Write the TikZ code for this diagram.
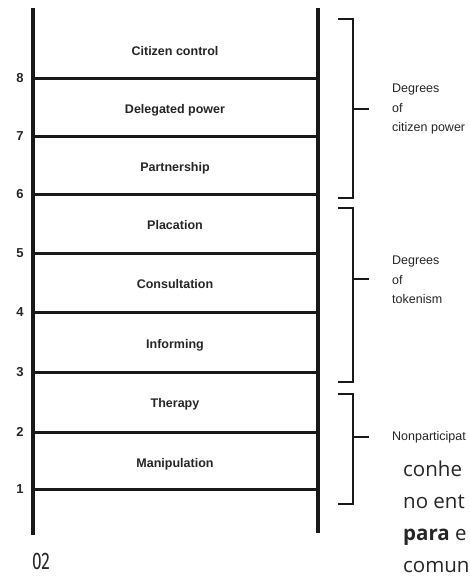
\documentclass[tikz,border=0pt]{standalone}
\usepackage{fontspec}
\newfontfamily\scanfont{Liberation Sans}
\newfontfamily\bodyfont{Open Sans}
\newfontfamily\foliofont[FakeStretch=0.72]{Fira Sans}
\usetikzlibrary{
    positioning     % For relative node placement
}

\begin{document}
\begin{tikzpicture}[
    x=1pt, y=-1pt,
    rail/.style={line width=3.4pt, black!90},
    rung/.style={line width=3pt, black!90},
    bracket/.style={line width=2.6pt, black!90},
    rung_label/.style={font=\scanfont\bfseries\fontsize{12.5}{14}\selectfont, text=black!85},
    rung_num/.style={font=\scanfont\bfseries\fontsize{13}{15}\selectfont, text=black!85},
    degree/.style={font=\scanfont\fontsize{12.5}{19.5}\selectfont, align=left, anchor=west, inner sep=0pt, text=black!85},
    body/.style={font=\bodyfont\fontsize{20.5}{32}\selectfont, anchor=base west, inner sep=0pt, text=black!85}
]
    % Page frame (clipped like the scan)
    \clip (0,0) rectangle (470,576);
    \fill[white] (0,0) rectangle (470,576);

    % Ladder rails
    \coordinate (rail_lt) at (33,8);
    \coordinate (rail_lb) at (33,535);
    \coordinate (rail_rt) at (318,8);
    \coordinate (rail_rb) at (318,533);
    \draw[rail] (rail_lt) -- (rail_lb);
    \draw[rail] (rail_rt) -- (rail_rb);

    % Rungs and their numbers
    \foreach \n/\yy in {1/489, 2/432, 3/372, 4/312, 5/253, 6/194, 7/136, 8/78} {
        \draw[rung] (33,\yy) -- (318,\yy);
        \node[rung_num] (num\n) at (20,\yy) {\n};
    }

    % Rung labels
    \node[rung_label] (citizen) at (175,51) {Citizen control};
    \node[rung_label] (delegated) at (175,110) {Delegated power};
    \node[rung_label] (partnership) at (175,168) {Partnership};
    \node[rung_label] (placation) at (175,225) {Placation};
    \node[rung_label] (consultation) at (175,284) {Consultation};
    \node[rung_label] (informing) at (175,345) {Informing};
    \node[rung_label] (therapy) at (175,404) {Therapy};
    \node[rung_label] (manipulation) at (175,464) {Manipulation};

    % Bracket 1: citizen power
    \draw[bracket] (338,19) -- (353,19) -- (353,198) -- (338,198);
    \coordinate (tick_power) at (353,109);
    \node[degree] (power) at (392,109) {Degrees\\of\\citizen power};
    \draw[bracket] (tick_power) -- ++(16,0);

    % Bracket 2: tokenism
    \draw[bracket] (338,208) -- (353,208) -- (353,382) -- (338,382);
    \coordinate (tick_token) at (353,279);
    \node[degree] (tokenism) at (392,280) {Degrees\\of\\tokenism};
    \draw[bracket] (tick_token) -- ++(16,0);

    % Bracket 3: nonparticipation
    \draw[bracket] (338,394) -- (353,394) -- (353,504) -- (338,504);
    \coordinate (tick_nonpart) at (353,437);
    \node[degree, font=\scanfont\fontsize{12.5}{14}\selectfont] (nonpart) at (392,437) {Nonparticipat};
    \draw[bracket] (tick_nonpart) -- ++(16,0);

    % Running text of the page
    \node[body] (line1) at (403,476) {conhe};
    \node[body] (line2) at (403,508) {no ent};
    \node[body] (line3) at (403,540) {\textbf{para} e};
    \node[body] (line4) at (403,572) {comun};

    % Page number
    \node[font=\foliofont\fontsize{24}{26}\selectfont, inner sep=0pt, text=black!85] (folio) at (41,561) {02};
\end{tikzpicture}
\end{document}
